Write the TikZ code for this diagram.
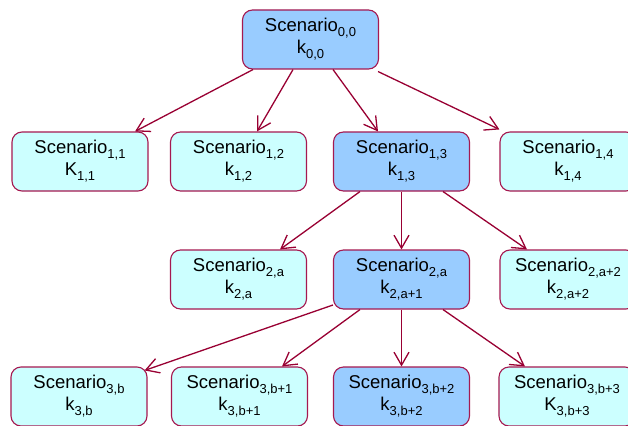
\documentclass[tikz,border=0pt]{standalone}
\usepackage{fontspec}
\setmainfont{Liberation Sans}
\usetikzlibrary{arrows.meta}
\definecolor{edgec}{RGB}{153,0,51}
\definecolor{bordc}{RGB}{165,25,80}
\definecolor{boxblue}{RGB}{153,204,255}
\definecolor{boxcyan}{RGB}{204,255,255}
\newcommand\sbx[1]{\raisebox{-0.28em}{\fontsize{13}{13}\selectfont #1}}
\begin{document}
\begin{tikzpicture}[x=1pt,y=-1pt,
  scen/.style={draw=bordc, line width=1.1pt, rounded corners=10pt, minimum width=136pt,
    minimum height=59pt, inner sep=0pt, align=center,
    font=\fontsize{18.5}{22}\selectfont, fill=boxcyan},
  hl/.style={scen, fill=boxblue},
  conn/.style={draw=edgec, line width=1.3pt, -{Straight Barb[length=13pt,width=15pt]}}]
\useasboundingbox (0,0) rectangle (628,425);
\clip (0,0) rectangle (628,425);
\fill[white] (0,0) rectangle (628,425);

\node[hl]   (r)  at (310.5,39.5)  {Scenario\sbx{0,0}\\k\sbx{0,0}};
\node[scen] (a1) at (80,161.5)    {Scenario\sbx{1,1}\\K\sbx{1,1}};
\node[scen] (a2) at (238.5,161.5) {Scenario\sbx{1,2}\\k\sbx{1,2}};
\node[hl]   (a3) at (401.5,161.5) {Scenario\sbx{1,3}\\k\sbx{1,3}};
\node[scen] (a4) at (568,161.5)   {Scenario\sbx{1,4}\\k\sbx{1,4}};

\node[scen] (b1) at (238.5,279.5) {Scenario\sbx{2,a}\\k\sbx{2,a}};
\node[hl]   (b2) at (401.5,279.5) {Scenario\sbx{2,a}\\k\sbx{2,a+1}};
\node[scen] (b3) at (568,279.5)   {Scenario\sbx{2,a+2}\\k\sbx{2,a+2}};

\node[scen] (c1) at (79,396.5)    {Scenario\sbx{3,b}\\k\sbx{3,b}};
\node[scen] (c2) at (239.5,396.5) {Scenario\sbx{3,b+1}\\k\sbx{3,b+1}};
\node[hl]   (c3) at (401.5,396.5) {Scenario\sbx{3,b+2}\\k\sbx{3,b+2}};
\node[scen] (c4) at (567,396.5)   {Scenario\sbx{3,b+3}\\K\sbx{3,b+3}};

\draw[conn] ([xshift=-57.5pt]r.south) -- ([xshift=55pt]a1.north);
\draw[conn] ([xshift=-17.5pt]r.south) -- ([xshift=18.5pt]a2.north);
\draw[conn] ([xshift=22.5pt]r.south) -- ([xshift=-23.5pt]a3.north);
\draw[conn] ([xshift=-1pt,yshift=-2pt]r.south east) -- ([yshift=2pt]a4.north west);

\draw[conn] ([xshift=-41.5pt]a3.south) -- ([xshift=41.5pt]b1.north);
\draw[conn] (a3.south) -- (b2.north);
\draw[conn] ([xshift=41.5pt]a3.south) -- ([xshift=-41pt]b3.north);

\draw[conn] ([yshift=-25.5pt]b2.west) -- ([xshift=-3pt,yshift=-4pt]c1.north east);
\draw[conn] ([xshift=-41.5pt]b2.south) -- ([xshift=42.5pt]c2.north);
\draw[conn] (b2.south) -- (c3.north);
\draw[conn] ([xshift=41.5pt]b2.south) -- ([xshift=-42pt]c4.north);
\end{tikzpicture}
\end{document}
